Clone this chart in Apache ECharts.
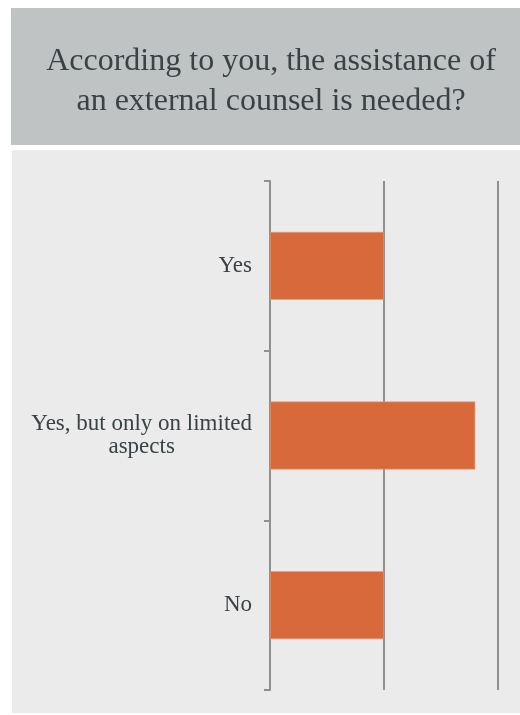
<!DOCTYPE html>
<html>
<head>
<meta charset="utf-8">
<script src="https://cdn.jsdelivr.net/npm/echarts@6/dist/echarts.min.js"></script>
<style>
  html, body { margin: 0; padding: 0; background: #ffffff; }
  #chart { width: 520px; height: 715px; }
</style>
</head>
<body>
<div id="chart"></div>
<script>
// Survey answers and their response counts
const categories = ['Yes', 'Yes, but only on limited\naspects', 'No'];
const responses = [5, 9, 5];
const axisMax = 10;
const axisStep = 5;

const titleText = 'According to you, the assistance of\nan external counsel is needed?';

const serif = 'Liberation Serif, Times New Roman, serif';
const textColor = '#3a4245';
const lineColor = '#8e8f8f';

const chart = echarts.init(document.getElementById('chart'), null, { renderer: 'canvas' });

chart.setOption({
  backgroundColor: '#ffffff',
  animation: false,
  graphic: [
    { type: 'rect', z: -10, shape: { x: 11, y: 8, width: 509, height: 137 }, style: { fill: '#c0c3c3' } },
    { type: 'rect', z: -10, shape: { x: 12, y: 150, width: 508, height: 563 }, style: { fill: '#eaebea' } }
  ],
  title: {
    text: titleText,
    left: 266,
    top: 37,
    textAlign: 'center',
    textStyle: {
      fontFamily: serif,
      fontWeight: 'normal',
      fontSize: 32,
      lineHeight: 40,
      color: textColor
    }
  },
  grid: { left: 270, right: 22, top: 181, bottom: 25, containLabel: false },
  xAxis: {
    type: 'value',
    min: 0,
    max: axisMax,
    interval: axisStep,
    axisLine: { show: false },
    axisTick: { show: false },
    axisLabel: { show: false },
    splitLine: { show: true, lineStyle: { color: lineColor, width: 2 } }
  },
  yAxis: {
    type: 'category',
    inverse: true,
    data: categories,
    axisLine: { show: true, lineStyle: { color: lineColor, width: 2 } },
    axisTick: { show: true, length: 6, lineStyle: { color: lineColor, width: 2 } },
    axisLabel: {
      margin: 18,
      formatter: v => v.split('\n').map(s => '{c|' + s + '}').join('\n'),
      rich: {
        c: {
          align: 'center',
          fontFamily: serif,
          fontSize: 23,
          lineHeight: 23.5,
          color: textColor
        }
      }
    }
  },
  series: [{
    type: 'bar',
    data: responses,
    barCategoryGap: '60%',
    itemStyle: { color: '#d7693a', borderColor: '#eb9c7a', borderWidth: 0.6 },
    label: { show: false }
  }]
});
</script>
</body>
</html>
